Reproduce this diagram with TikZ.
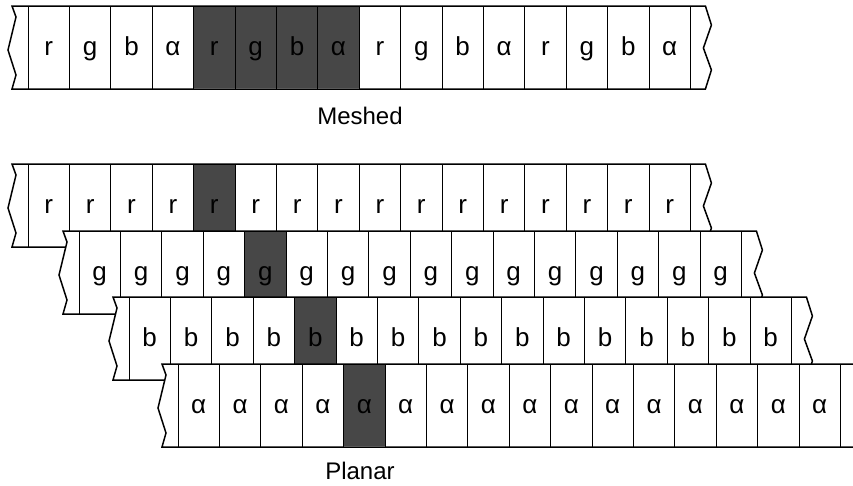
\documentclass[tikz,border=0pt]{standalone}
\usepackage{fontspec}
\setmainfont{Liberation Sans}
\tikzset{
  tape/.style={fill=white,draw=black,line width=1.5pt,line join=miter},
  celldiv/.style={draw=black,line width=.9pt},
  darkcell/.style={fill=black!72},
  cellchar/.style={anchor=base,inner sep=0pt,font=\fontsize{26}{30}\selectfont},
  captext/.style={inner sep=0pt,font=\fontsize{24}{28}\selectfont}
}
\newcommand{\tapeband}[3]{%
  \pgfmathsetmacro{\xe}{#1+#3*41.4}%
  \draw[tape] (#1-16,#2) -- (\xe+15,#2) -- (\xe+21,#2+19) -- (\xe+13,#2+42)
    -- (\xe+21,#2+64) -- (\xe+15,#2+83) -- (#1-16,#2+83) -- (#1-12,#2+69)
    -- (#1-20,#2+44) -- (#1-12,#2+11) -- cycle;
}

\begin{document}
\begin{tikzpicture}[x=1pt,y=-1pt]
    \useasboundingbox (0,0) rectangle (853,485);
    \clip (0,0) rectangle (853,485);
    \tapeband{28}{6}{16}
    \fill[darkcell] (28+4*41.4,6.75) rectangle (28+8*41.4,88.25);
    \foreach \i in {0,...,16}
      \draw[celldiv] (28+\i*41.4,6) -- (28+\i*41.4,89);
    \foreach \c [count=\i] in {r,g,b,α,r,g,b,α,r,g,b,α,r,g,b,α}
      \node[cellchar] (m\i) at (28+\i*41.4-20.7,55) {\c};
    \node[captext] (meshed) at (360,116) {Meshed};
    \foreach \rx/\ry/\ch/\nm/\nc in {28/164/r/r/16,79/231/g/g/16,129/297/b/b/16,178/364/α/a/18}{
      \tapeband{\rx}{\ry}{\nc}
      \fill[darkcell] (\rx+4*41.4,\ry+.75) rectangle (\rx+5*41.4,\ry+82.25);
      \foreach \i in {0,...,\nc}
        \draw[celldiv] (\rx+\i*41.4,\ry) -- (\rx+\i*41.4,\ry+83);
      \foreach \i in {1,...,\nc}
        \node[cellchar] (\nm\i) at (\rx+\i*41.4-20.7,\ry+49) {\ch};
    }
    \node[captext] (planar) at (360,471) {Planar};
  \end{tikzpicture}
\end{document}
